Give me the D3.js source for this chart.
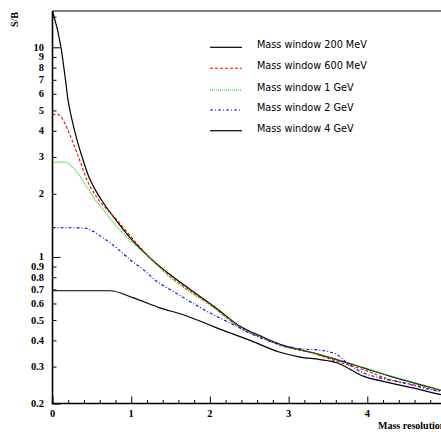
<!DOCTYPE html>
<html><head><meta charset="utf-8">
<script src="https://cdn.jsdelivr.net/npm/d3@7"></script>
<style>body{margin:0;background:#fff;} svg{display:block;}</style>
</head><body>
<svg id="c" width="441" height="432"></svg>
<script>
const seriesNames = ["Mass window 200 MeV","Mass window 600 MeV","Mass window 1 GeV","Mass window 2 GeV","Mass window 4 GeV"];
const w200_x = [0,0.108,0.165,0.197,0.248,0.311,0.375,0.460,0.544,0.620,0.773,0.985,1.239,1.5,1.75,2.086,2.382,2.679,2.891,3.314,3.611,3.949,4.288,4.670,4.924,5.0];
const w200_y = [14.9,10.0,6.99,5.61,4.51,3.62,3.01,2.42,2.09,1.875,1.556,1.236,0.99,0.82,0.70,0.568,0.467,0.414,0.383,0.349,0.324,0.296,0.270,0.246,0.232,0.228];
const w600_x = [0,0.057,0.121,0.184,0.248,0.311,0.375,0.438,0.502,0.587,0.816,1.070,1.25,1.5,1.75,2.0,2.382,2.679,2.891,3.314,3.611,3.949,4.288,4.670,4.924,5.0];
const w600_y = [4.76,4.80,4.59,4.12,3.62,3.13,2.70,2.33,2.09,1.875,1.505,1.16,0.98,0.81,0.69,0.595,0.462,0.409,0.379,0.347,0.318,0.290,0.260,0.242,0.231,0.228];
const w1g_x = [0,0.163,0.248,0.333,0.417,0.502,0.544,0.645,0.816,1.070,1.324,1.5,1.75,2.0,2.382,2.679,2.891,3.314,3.611,3.949,4.288,4.670,4.924,5.0];
const w1g_y = [2.835,2.835,2.70,2.47,2.21,1.98,1.875,1.68,1.40,1.123,0.919,0.795,0.68,0.59,0.460,0.410,0.380,0.349,0.325,0.297,0.271,0.247,0.233,0.229];
const w2g_x = [0,0.391,0.518,0.645,0.816,0.985,1.154,1.324,1.493,1.620,1.874,2.086,2.297,2.509,2.713,2.891,3.145,3.399,3.611,3.738,3.949,4.161,4.501,4.797,5.0];
const w2g_y = [1.38,1.375,1.324,1.232,1.104,0.971,0.870,0.765,0.700,0.655,0.575,0.520,0.476,0.432,0.402,0.382,0.365,0.359,0.343,0.313,0.280,0.265,0.249,0.233,0.226];
const w4g_x = [0,0.731,1.027,1.366,1.662,2.086,2.509,2.891,3.145,3.399,3.611,3.949,4.288,4.670,4.924,5.0];
const w4g_y = [0.69,0.69,0.638,0.572,0.530,0.459,0.400,0.351,0.333,0.324,0.313,0.270,0.251,0.233,0.221,0.218];
const yTickVals = [0.2,0.3,0.4,0.5,0.6,0.7,0.8,0.9,1,2,3,4,5,6,7,8,9,10];
const yTickLabels = ["0.2","0.3","0.4","0.5","0.6","0.7","0.8","0.9","1","2","3","4","5","6","7","8","9","10"];
const xTickVals = [0,1,2,3,4];
const xTickLabels = ["0","1","2","3","4"];

const seriesX = [w200_x,w600_x,w1g_x,w2g_x,w4g_x];
const seriesY = [w200_y,w600_y,w1g_y,w2g_y,w4g_y];
const colors = ["#000","#ff0000","#00cc00","#0000ff","#000"];
const dashes = [null,"3,2","1,1","3,2,1,2",null];
const widths = [1.2,1.1,1.1,1.1,1.2];

const svg = d3.select("#c");
const L=52.5, R=446, T=11, B=403.5;
const x = d3.scaleLinear().domain([0,5]).range([L,R]);
const y = d3.scaleLog().domain([0.2,14.9]).range([B,T]);

svg.append("defs").append("clipPath").attr("id","clip")
  .append("rect").attr("x",L).attr("y",T).attr("width",R-L).attr("height",B-T);

const serif = "'Liberation Serif','Times New Roman',serif";

svg.append("line").attr("x1",L).attr("x2",441).attr("y1",T).attr("y2",T)
  .attr("stroke","#555").attr("stroke-width",1.6);

const line = d3.line().x(d=>x(d[0])).y(d=>y(d[1])).curve(d3.curveMonotoneX);
const g = svg.append("g").attr("clip-path","url(#clip)");
seriesX.forEach((xs,i)=>{
  const pts = xs.map((v,j)=>[v,seriesY[i][j]]);
  g.append("path").datum(pts).attr("d",line).attr("fill","none")
    .attr("stroke",colors[i]).attr("stroke-width",widths[i])
    .attr("stroke-dasharray",dashes[i]);
});

const yAxis = d3.axisRight(y).tickValues(d3.range(2,10).map(v=>v/10).concat(d3.range(1,11), [14]).filter(v=>v<=14.9))
  .tickFormat("").tickSizeOuter(0).tickSize(4);
const ya = svg.append("g").attr("transform",`translate(${L},0)`).call(yAxis);
ya.select(".domain").remove();
ya.selectAll(".tick line").attr("stroke","#000").attr("stroke-width",1)
  .attr("x2",d=> (d===1||d===10||d===0.2)?8:4);
svg.append("line").attr("x1",L).attr("x2",L).attr("y1",T).attr("y2",B+0.5)
  .attr("stroke","#000").attr("stroke-width",1.6);

yTickVals.forEach((v,i)=>{
  svg.append("text").attr("x",44).attr("y",y(v)+3.5).attr("text-anchor","end")
    .attr("font-family",serif).attr("font-weight","bold").attr("font-size","10.5px")
    .text(yTickLabels[i]);
});

const xAxis = d3.axisTop(x).tickValues(d3.range(0,26).map(v=>v/5)).tickFormat("").tickSizeOuter(0);
const xa = svg.append("g").attr("transform",`translate(0,${B})`).call(xAxis);
xa.select(".domain").remove();
xa.selectAll(".tick line").attr("stroke","#000").attr("stroke-width",1)
  .attr("y2",d=> Math.abs(d-Math.round(d))<1e-6 ? -7 : -3.5);
svg.append("line").attr("x1",L-0.8).attr("x2",441).attr("y1",B).attr("y2",B)
  .attr("stroke","#000").attr("stroke-width",1.6);

xTickVals.forEach((v,i)=>{
  svg.append("text").attr("x",x(v)).attr("y",416.5).attr("text-anchor","middle")
    .attr("font-family",serif).attr("font-weight","bold").attr("font-size","10.5px")
    .text(xTickLabels[i]);
});

svg.append("text").attr("x",378).attr("y",428.5).attr("font-family",serif)
  .attr("font-weight","bold").attr("font-size","10px").text("Mass resolution (GeV)");

svg.append("text").attr("transform","translate(18,12) rotate(-90)").attr("text-anchor","end")
  .attr("font-family",serif).attr("font-weight","bold").attr("font-size","10px").text("S/B");

const legY = [47.3,68.3,90,110,130.7];
seriesNames.forEach((n,i)=>{
  svg.append("line").attr("x1",210).attr("x2",242).attr("y1",legY[i]).attr("y2",legY[i])
    .attr("stroke",colors[i]).attr("stroke-width",widths[i]).attr("stroke-dasharray",dashes[i]);
  svg.append("text").attr("x",257).attr("y",legY[i]+0.8).attr("font-family","'DejaVu Sans',sans-serif")
    .attr("font-size","9.7px").attr("fill","#000").text(n);
});
</script>
</body></html>
